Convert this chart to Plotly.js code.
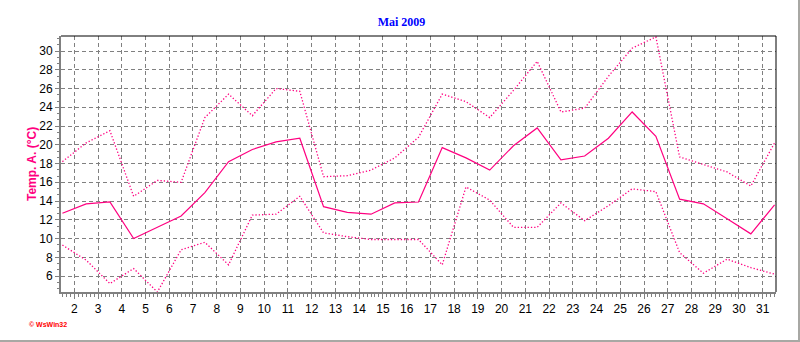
<!DOCTYPE html>
<html>
<head>
<meta charset="utf-8">
<script src="https://cdn.plot.ly/plotly-3.0.1.min.js"></script>
<style>
  html, body { margin: 0; padding: 0; background: #fff; }
  #frame { width: 798px; height: 340px; border-right: 2px solid #a8a8a4; border-bottom: 2px solid #a8a8a4; }
  #chart { width: 798px; height: 340px; }
</style>
</head>
<body>
<div id="frame"><div id="chart"></div></div>
<script>
// Day positions (values plotted at noon of each day of May 2009)
const days = [1.5, 2.5, 3.5, 4.5, 5.5, 6.5, 7.5, 8.5, 9.5, 10.5,
              11.5, 12.5, 13.5, 14.5, 15.5, 16.5, 17.5, 18.5, 19.5, 20.5,
              21.5, 22.5, 23.5, 24.5, 25.5, 26.5, 27.5, 28.5, 29.5, 30.5, 31.5];

// Maximum temperature (upper dotted line)
const tMax = [18.2, 20.2, 21.5, 14.5, 16.2, 16.0, 22.9, 25.4, 23.1, 26.0,
              25.7, 16.6, 16.7, 17.3, 18.6, 20.8, 25.4, 24.6, 22.9, 25.8,
              28.9, 23.5, 23.9, 27.3, 30.3, 31.5, 18.7, 17.9, 17.1, 15.6, 20.2];

// Mean temperature (solid line)
const tMean = [12.7, 13.7, 13.9, 10.0, 11.2, 12.4, 14.9, 18.2, 19.5, 20.3,
               20.7, 13.4, 12.8, 12.6, 13.8, 13.9, 19.7, 18.6, 17.3, 19.9,
               21.8, 18.4, 18.8, 20.7, 23.5, 20.9, 14.2, 13.7, 12.1, 10.5, 13.6];

// Minimum temperature (lower dotted line)
const tMin = [9.3, 7.7, 5.2, 6.8, 4.3, 8.8, 9.6, 7.2, 12.5, 12.6,
              14.5, 10.6, 10.2, 9.9, 9.9, 9.9, 7.2, 15.5, 14.1, 11.2,
              11.2, 13.8, 11.9, 13.5, 15.3, 15.0, 8.5, 6.3, 7.8, 6.9, 6.2];

const titleText = 'Mai 2009';
const yTitleText = 'Temp. A. (°C)';
const logoText = '© WsWin32';

const pink = '#ff0080';

const traces = [
  { x: days, y: tMax, mode: 'lines', line: { color: pink, width: 1.3, dash: '1.3px,2px' }, hoverinfo: 'skip' },
  { x: days, y: tMean, mode: 'lines', line: { color: pink, width: 1.2 }, hoverinfo: 'skip' },
  { x: days, y: tMin, mode: 'lines', line: { color: pink, width: 1.3, dash: '1.3px,2px' }, hoverinfo: 'skip' }
];

const layout = {
  width: 798, height: 340,
  margin: { l: 61, r: 22, t: 36, b: 48, pad: 0 },
  paper_bgcolor: '#ffffff', plot_bgcolor: '#ffffff',
  showlegend: false,
  font: { family: 'Liberation Sans, Arial, sans-serif', size: 12, color: '#000' },
  title: {
    text: '<b>' + titleText + '</b>',
    font: { family: 'Liberation Serif, Times New Roman, serif', size: 12, color: '#0000ff' },
    x: 401.5 / 798, xanchor: 'center', xref: 'container',
    y: 1 - 22 / 340, yanchor: 'middle', yref: 'container'
  },
  xaxis: {
    range: [1.44, 31.56],
    tick0: 0, dtick: 1,
    showgrid: true, gridcolor: '#808080', gridwidth: 1, griddash: '4px,3px',
    zeroline: false,
    showline: true, linecolor: '#808080', linewidth: 2,
    ticks: 'outside', ticklen: 5, tickcolor: '#808080', tickwidth: 1,
    minor: { dtick: 1 / 6, tick0: 0, ticks: 'outside', ticklen: 3, tickcolor: '#808080', tickwidth: 1, showgrid: false },
    tickfont: { size: 12, color: '#000' },
    fixedrange: true
  },
  yaxis: {
    range: [4.3, 31.6],
    tick0: 0, dtick: 2,
    showgrid: true, gridcolor: '#808080', gridwidth: 1, griddash: '4px,3px',
    zeroline: false,
    showline: true, linecolor: '#808080', linewidth: 2,
    ticks: 'outside', ticklen: 4, tickcolor: '#808080', tickwidth: 1,
    minor: { dtick: 2 / 3, tick0: 0, ticks: 'outside', ticklen: 2, tickcolor: '#808080', tickwidth: 1, showgrid: false },
    tickfont: { size: 12, color: '#000' },
    fixedrange: true
  },
  shapes: [
    { type: 'line', xref: 'paper', yref: 'paper', x0: 0, x1: 1, y0: 1, y1: 1, line: { color: '#000', width: 1 }, layer: 'above' },
    { type: 'line', xref: 'paper', yref: 'paper', x0: 1, x1: 1, y0: 0, y1: 1, line: { color: '#000', width: 1 }, layer: 'above' }
  ],
  annotations: [
    {
      text: '<b>' + yTitleText + '</b>', textangle: -90,
      xref: 'paper', yref: 'paper', x: 0, y: 0.5, xanchor: 'center', yanchor: 'middle',
      xshift: -29, showarrow: false,
      font: { family: 'Liberation Sans, Arial, sans-serif', size: 12, color: pink }
    },
    {
      text: '<b>' + logoText + '</b>',
      xref: 'paper', yref: 'paper', x: 0, y: 0, xanchor: 'left', yanchor: 'middle',
      xshift: -34, yshift: -32, showarrow: false,
      font: { family: 'Liberation Sans, Arial, sans-serif', size: 7, color: '#ff0000' }
    }
  ]
};

Plotly.newPlot('chart', traces, layout, { staticPlot: true, displayModeBar: false });
</script>
</body>
</html>
